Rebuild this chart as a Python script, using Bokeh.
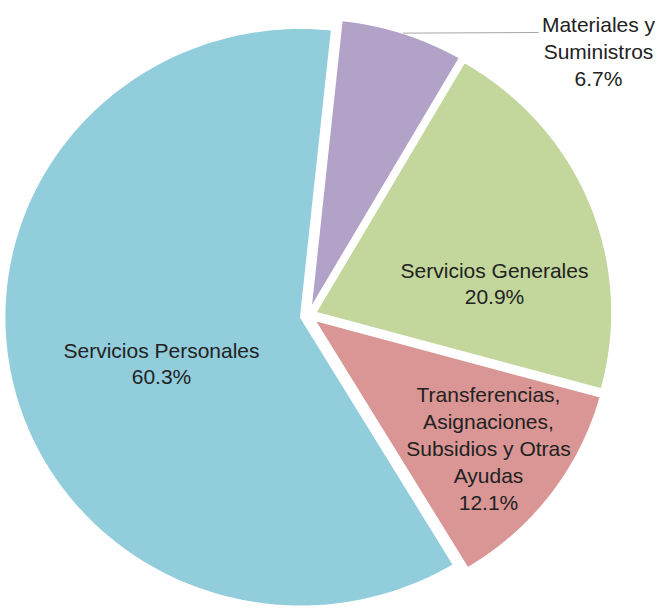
import numpy as np
from bokeh.plotting import figure
from bokeh.models import Range1d, ColumnDataSource
from bokeh.core.properties import value
from bokeh.embed import file_html
from bokeh.resources import INLINE

# ---- data ----
categories = ["Materiales y Suministros", "Servicios Generales",
              "Transferencias, Asignaciones, Subsidios y Otras Ayudas",
              "Servicios Personales"]
label_lines = ["Materiales y\nSuministros", "Servicios Generales",
               "Transferencias,\nAsignaciones,\nSubsidios y Otras\nAyudas",
               "Servicios Personales"]
shares = [6.7, 20.9, 12.1, 60.3]
colors = ["#B3A2C7", "#C3D69B", "#D99694", "#92CDDC"]

# ---- layout (pixels) ----
W, H = 657, 608
CX, CY = 308, 315          # pie centre inside the frame
RX, RY = 296, 289          # pie radii
EXPLODE = 8
START = np.deg2rad(6.0)    # first slice angle, clockwise from 12 o'clock
# label centres, in pixel offsets from the pie centre (x right, y up)
label_pos = [(290, 264), (186, 32), (180, -133), (-147, -48)]
leader_end = (230, 283)

p = figure(width=W, height=H, output_backend="svg", toolbar_location=None,
           x_range=Range1d(-CX, W - CX), y_range=Range1d(-(H - CY), CY),
           min_border=0)
p.axis.visible = False
p.grid.visible = False
p.outline_line_color = None
p.background_fill_color = "white"

vals = np.array(shares, dtype=float)
frac = vals / vals.sum()
ends = START + np.cumsum(frac) * 2 * np.pi
starts = ends - frac * 2 * np.pi

xs, ys, offs = [], [], []
for a0, a1 in zip(starts, ends):
    mid = (a0 + a1) / 2
    ox, oy = EXPLODE * np.sin(mid), EXPLODE * np.cos(mid)
    offs.append((ox, oy, mid))
    th = np.linspace(a0, a1, 200)
    xs.append(np.concatenate([[ox], ox + RX * np.sin(th)]).tolist())
    ys.append(np.concatenate([[oy], oy + RY * np.cos(th)]).tolist())

src = ColumnDataSource(dict(xs=xs, ys=ys, color=colors, cat=categories))
p.patches("xs", "ys", source=src, fill_color="color", line_color="white",
          line_width=1.5)

# leader line for the small slice
ox, oy, mid = offs[0]
p.line([ox + RX * np.sin(mid), leader_end[0]], [oy + RY * np.cos(mid), leader_end[1]],
       line_color="#A6A6A6", line_width=1)

texts = [f"{l}\n{v:.1f}%" for l, v in zip(label_lines, shares)]
p.text(x=[q[0] for q in label_pos], y=[q[1] for q in label_pos], text=texts,
       text_font=value("Liberation Sans"), text_font_size="21px",
       text_align="center", text_baseline="middle", text_line_height=1.17,
       text_color="#222222")

open("out.html", "w").write(file_html(p, INLINE))
